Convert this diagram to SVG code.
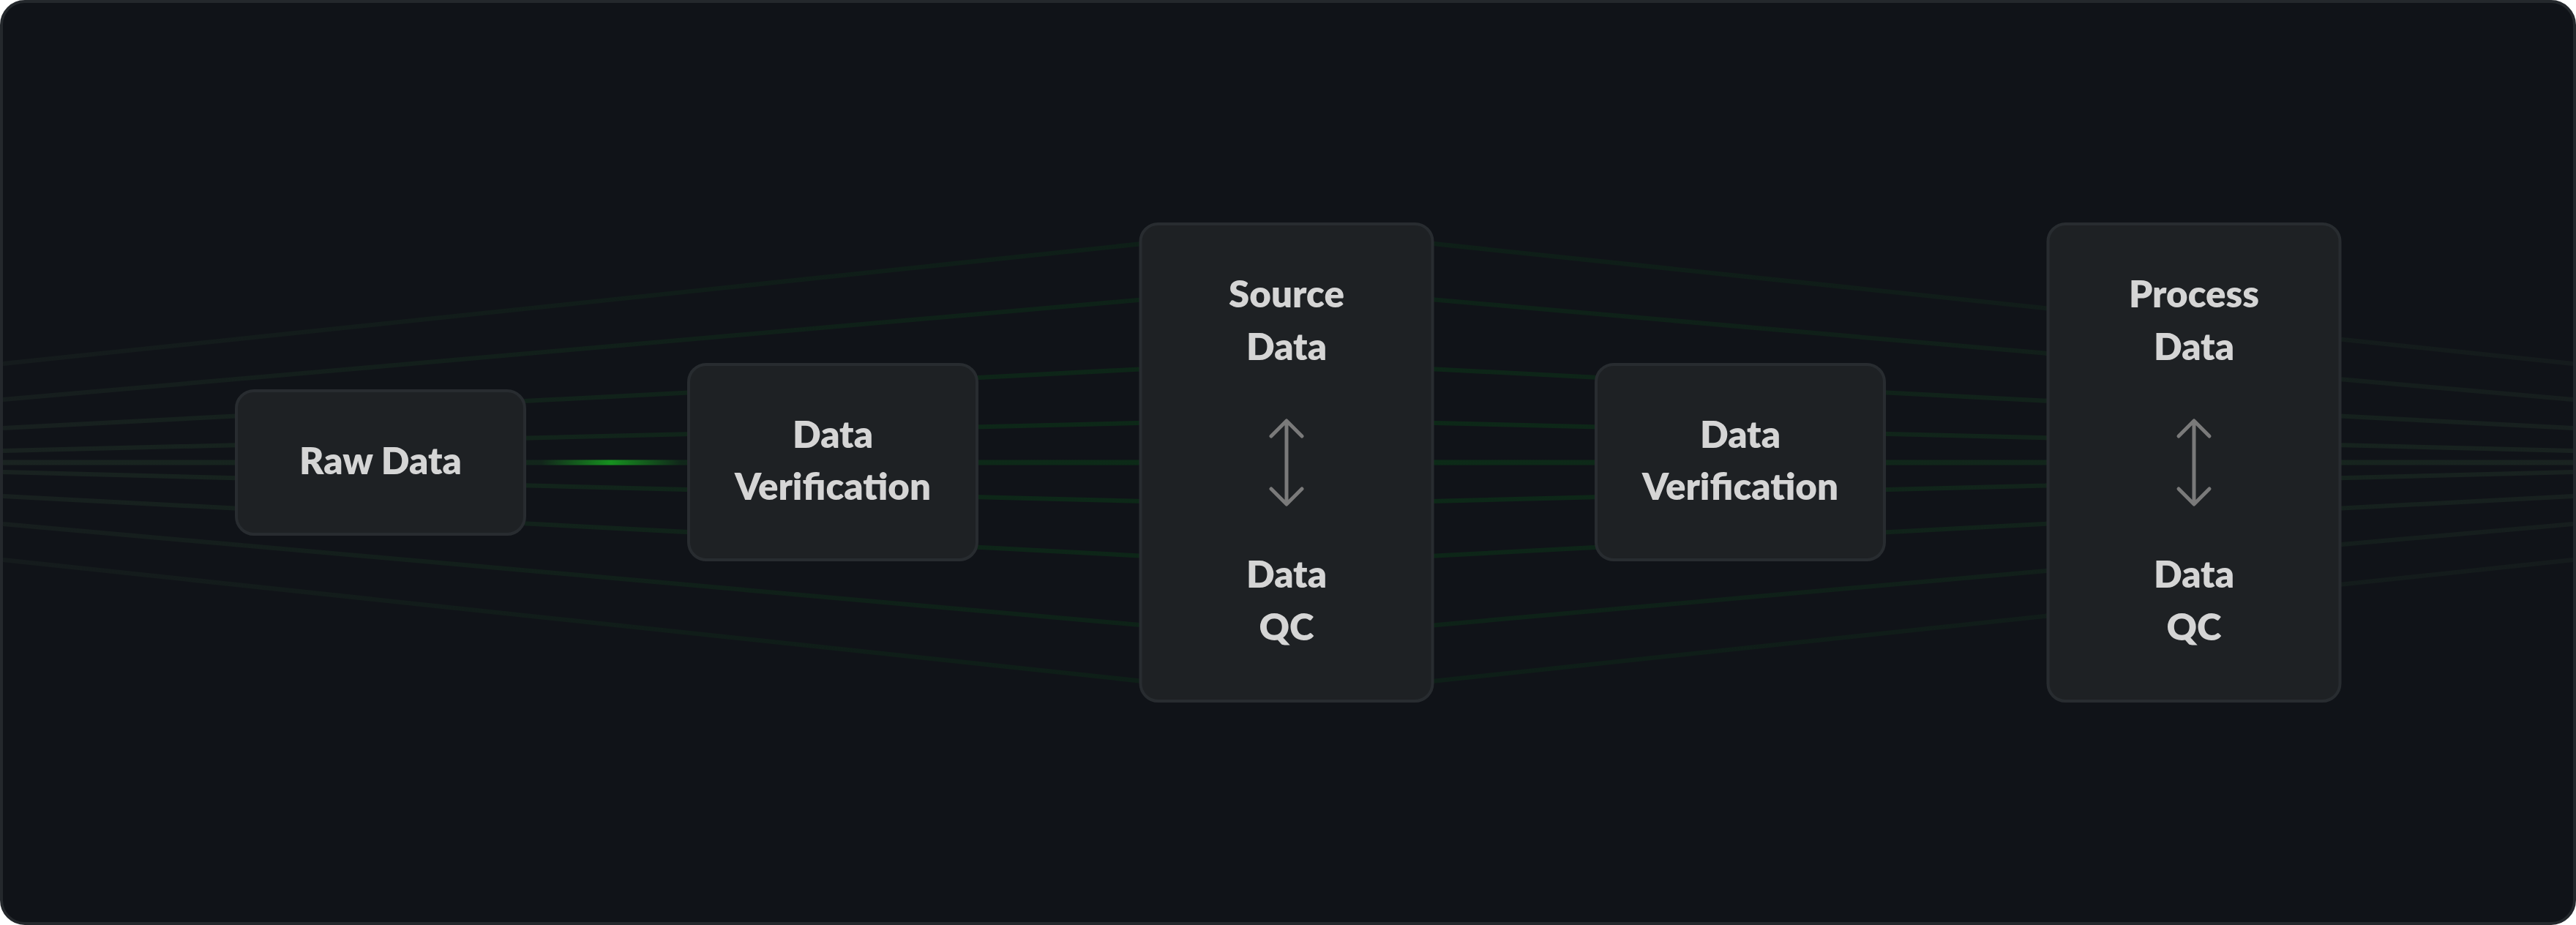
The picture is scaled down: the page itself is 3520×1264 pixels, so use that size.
<svg xmlns="http://www.w3.org/2000/svg" width="3520" height="1264" viewBox="0 0 3520 1264">
  <defs>
    <linearGradient id="lineGrad" gradientUnits="userSpaceOnUse" x1="0" y1="0" x2="3520" y2="0">
      <stop offset="0" stop-color="#1a2321"/>
      <stop offset="0.3" stop-color="#0f2719"/>
      <stop offset="0.5" stop-color="#0b2c17"/>
      <stop offset="0.7" stop-color="#0f2719"/>
      <stop offset="1" stop-color="#1a2321"/>
    </linearGradient>
    <linearGradient id="pulse" gradientUnits="userSpaceOnUse" x1="740" y1="0" x2="930" y2="0">
      <stop offset="0" stop-color="#16901f" stop-opacity="0"/>
      <stop offset="0.5" stop-color="#16901f" stop-opacity="1"/>
      <stop offset="1" stop-color="#16901f" stop-opacity="0"/>
    </linearGradient>
  </defs>
  <style>
    .bg-line { fill: none; stroke: url(#lineGrad); stroke-width: 6; stroke-linejoin: round; }
    .node { fill: #1e2124; stroke: #282c30; stroke-width: 4; }
    .label { font-family: Lato, "Liberation Sans", sans-serif; font-weight: 800; font-size: 51px; fill: #d5d5d5; text-anchor: middle; }
    .arrow { fill: none; stroke: #7a7a7a; stroke-width: 5; stroke-linecap: round; stroke-linejoin: round; }
  </style>

  <rect x="0" y="0" width="3520" height="1264" fill="#ffffff"/>
  <rect x="2" y="2" width="3516" height="1260" rx="32" ry="32" fill="#101318" stroke="#24282c" stroke-width="4"/>

  <g id="connectors">
    <path class="bg-line" style="opacity:0.5" d="M4,497 L1760,312 L3516,497"/>
    <path class="bg-line" style="opacity:0.65" d="M4,546 L1760,392 L3516,546"/>
    <path class="bg-line" style="opacity:0.8" d="M4,585 L1760,494 L3516,585"/>
    <path class="bg-line" style="opacity:0.9" d="M4,616 L1760,573 L3516,616"/>
    <path class="bg-line" style="stroke-width:7" d="M4,632 L3516,632"/>
    <path class="bg-line" style="opacity:0.9" d="M4,645 L1760,690 L3516,645"/>
    <path class="bg-line" style="opacity:0.8" d="M4,678 L1760,770 L3516,678"/>
    <path class="bg-line" style="opacity:0.65" d="M4,716 L1760,872 L3516,716"/>
    <path class="bg-line" style="opacity:0.5" d="M4,765 L1760,952 L3516,765"/>
    <path d="M740,632 L930,632" fill="none" stroke="url(#pulse)" stroke-width="7"/>
  </g>

  <g id="node-raw-data">
    <rect class="node" x="323" y="534" width="394" height="196" rx="24" ry="24"/>
    <text class="label" x="520" y="648">Raw Data</text>
  </g>

  <g id="node-data-verification-1">
    <rect class="node" x="941" y="498" width="394" height="267" rx="24" ry="24"/>
    <text class="label" x="1138" y="612">Data</text>
    <text class="label" x="1138" y="683">Verification</text>
  </g>

  <g id="node-source-data">
    <rect class="node" x="1558.5" y="306" width="399" height="652" rx="24" ry="24"/>
    <text class="label" x="1758" y="420">Source</text>
    <text class="label" x="1758" y="492">Data</text>
    <path class="arrow" d="M1758,576 L1758,688 M1737,596 L1758,575 L1779,596 M1737,668 L1758,689 L1779,668"/>
    <text class="label" x="1758" y="803">Data</text>
    <text class="label" x="1758" y="875">QC</text>
  </g>

  <g id="node-data-verification-2">
    <rect class="node" x="2181" y="498" width="394" height="267" rx="24" ry="24"/>
    <text class="label" x="2378" y="612">Data</text>
    <text class="label" x="2378" y="683">Verification</text>
  </g>

  <g id="node-process-data">
    <rect class="node" x="2798.5" y="306" width="399" height="652" rx="24" ry="24"/>
    <text class="label" x="2998" y="420">Process</text>
    <text class="label" x="2998" y="492">Data</text>
    <path class="arrow" d="M2998,576 L2998,688 M2977,596 L2998,575 L3019,596 M2977,668 L2998,689 L3019,668"/>
    <text class="label" x="2998" y="803">Data</text>
    <text class="label" x="2998" y="875">QC</text>
  </g>
</svg>
